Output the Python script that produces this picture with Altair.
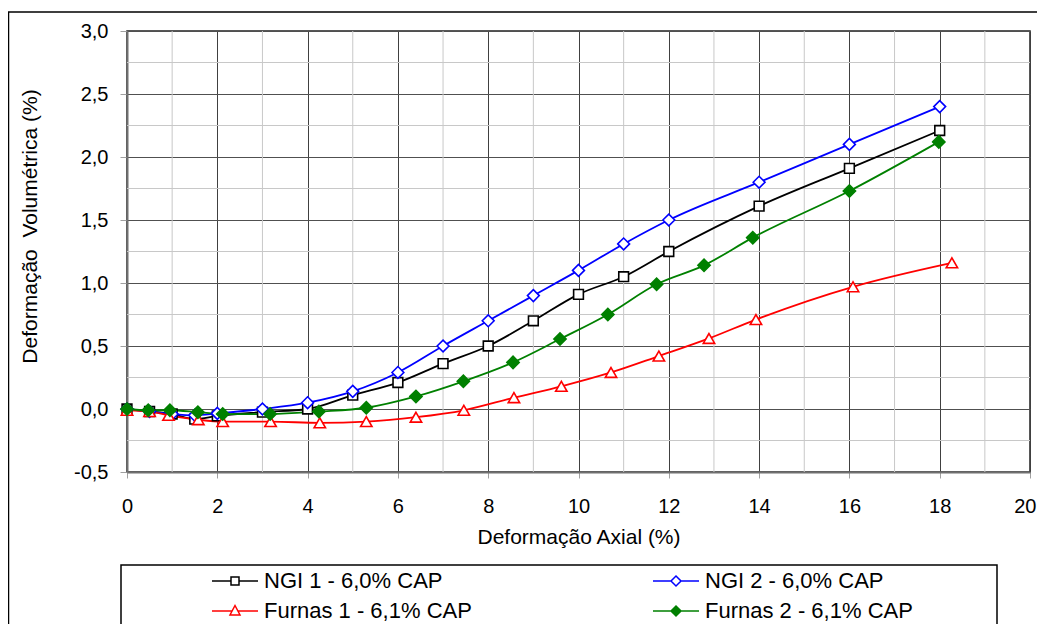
import altair as alt
import pandas as pd

series_names = ["NGI 1 - 6,0% CAP", "NGI 2 - 6,0% CAP", "Furnas 1 - 6,1% CAP", "Furnas 2 - 6,1% CAP"]
line_colors = ["#000000", "#0000ff", "#ff0000", "#008000"]
marker_fills = ["#ffffff", "#ffffff", "#ffffff", "#008000"]
marker_shapes = ["square", "diamond", "triangle-up", "diamond"]
marker_sizes = [95, 140, 130, 150]

ngi1_x = [0, 0.5, 1, 1.5, 2, 3, 4, 5, 6, 7, 8, 9, 10, 11, 12, 14, 16, 18]
ngi1_y = [0.0, -0.02, -0.04, -0.08, -0.055, -0.025, 0.0, 0.11, 0.21, 0.36, 0.50, 0.70, 0.91, 1.05, 1.25, 1.61, 1.91, 2.21]

ngi2_x = [0, 0.5, 1, 1.5, 2, 3, 4, 5, 6, 7, 8, 9, 10, 11, 12, 14, 16, 18]
ngi2_y = [0.0, -0.02, -0.04, -0.05, -0.035, 0.0, 0.05, 0.14, 0.29, 0.50, 0.70, 0.90, 1.10, 1.31, 1.50, 1.80, 2.10, 2.40]

furnas1_x = [0, 0.5, 0.92, 1.58, 2.12, 3.18, 4.27, 5.3, 6.4, 7.46, 8.57, 9.62, 10.72, 11.78, 12.89, 13.93, 16.08, 18.27]
furnas1_y = [-0.01, -0.02, -0.05, -0.085, -0.10, -0.10, -0.11, -0.10, -0.065, -0.01, 0.09, 0.18, 0.29, 0.42, 0.56, 0.71, 0.97, 1.16]

furnas2_x = [0, 0.47, 0.95, 1.57, 2.12, 3.17, 4.25, 5.3, 6.4, 7.45, 8.55, 9.59, 10.65, 11.73, 12.78, 13.86, 16.0, 17.98]
furnas2_y = [0.0, -0.01, -0.01, -0.025, -0.04, -0.04, -0.02, 0.01, 0.10, 0.22, 0.37, 0.555, 0.75, 0.99, 1.14, 1.36, 1.73, 2.12]

x_ticks = [0, 2, 4, 6, 8, 10, 12, 14, 16, 18, 20]
y_ticks = [-0.5, 0.0, 0.5, 1.0, 1.5, 2.0, 2.5, 3.0]
x_minor = [1, 3, 5, 7, 9, 11, 13, 15, 17, 19]
y_minor = [-0.25, 0.25, 0.75, 1.25, 1.75, 2.25, 2.75]

FONT = "Liberation Sans"

x_scale = alt.Scale(domain=[0, 20], nice=False, zero=False)
y_scale = alt.Scale(domain=[-0.5, 3.0], nice=False, zero=False)

x_axis = alt.Axis(values=x_ticks, title="Deformação Axial (%)", grid=True,
                  gridColor="#404040", gridWidth=1, tickColor="#a0a0a0", tickSize=6,
                  labelPadding=18, labelFontSize=20, titleFontSize=21,
                  domainColor="#707070", domainWidth=2, labelFlush=False,
                  labelAlign={"condition": {"test": "datum.value == 20", "value": "right"}, "value": "center"},
                  labelOffset={"condition": {"test": "datum.value == 20", "value": 6}, "value": 0},
                  titleY=65, titleBaseline="middle", titleFontWeight="normal",
                  labelColor="#000000", titleColor="#000000")
y_axis = alt.Axis(values=y_ticks, title="Deformação\u00a0 Volumétrica (%)", grid=True,
                  gridColor="#505050", gridWidth=1, tickColor="#a0a0a0", tickSize=7,
                  labelPadding=12, labelFontSize=20, titleFontSize=21,
                  domainColor="#707070", domainWidth=2, labelFlush=False,
                  labelExpr="(datum.value < 0 ? '-' : '') + replace(format(abs(datum.value), '.1f'), '.', ',')",
                  titleX=-97, titleY=195, titleAngle=270, titleBaseline="middle",
                  titleAlign="center", titleFontWeight="normal",
                  labelColor="#000000", titleColor="#000000")

X = alt.X("x:Q", scale=x_scale, axis=x_axis)
Y = alt.Y("y:Q", scale=y_scale, axis=y_axis)

minor_v = alt.Chart(pd.DataFrame({"x": x_minor})).mark_rule(color="#c8c8c8", strokeWidth=1).encode(x=X)
minor_h = alt.Chart(pd.DataFrame({"y": y_minor})).mark_rule(color="#c8c8c8", strokeWidth=1).encode(y=Y)

one = pd.DataFrame({"k": [0]})
outer_frame = alt.Chart(one).mark_rect(fill=None, stroke="#000000", strokeWidth=1.5).encode(
    x=alt.value(-118.5), x2=alt.value(915), y=alt.value(-19), y2=alt.value(600))
legend_frame = alt.Chart(one).mark_rect(fill=None, stroke="#000000", strokeWidth=1.5).encode(
    x=alt.value(-6), x2=alt.value(870), y=alt.value(534), y2=alt.value(600))

p_sq = "M-2.3,0H-0.4M0.4,0H2.3M-0.4,-0.4H0.4V0.4H-0.4Z"
p_di = "M-2.3,0H-0.5M0.5,0H2.3M0,-0.5L0.5,0L0,0.5L-0.5,0Z"
p_tr = "M-2.3,0H-0.29M0.29,0H2.3M0,-0.55L0.5,0.4L-0.5,0.4Z"
legend_paths = [p_sq, p_di, p_tr, p_di]
legend_pos = [(97, 539), (538, 539), (97, 569), (538, 569)]

series_xs = [ngi1_x, ngi2_x, furnas1_x, furnas2_x]
series_ys = [ngi1_y, ngi2_y, furnas1_y, furnas2_y]

line_layers = []
point_layers = []
for k, name in enumerate(series_names):
    d = pd.DataFrame({"series": name, "x": series_xs[k], "y": series_ys[k],
                      "i": list(range(len(series_xs[k])))})
    lg = alt.Legend(title=None, orient="none", legendX=legend_pos[k][0], legendY=legend_pos[k][1],
                    symbolType=legend_paths[k], symbolSize=400, symbolStrokeWidth=1.5,
                    symbolFillColor=marker_fills[k], symbolOpacity=1,
                    labelFontSize=22, labelFont=FONT, labelColor="#000000",
                    labelOffset=18, padding=0, labelLimit=400)
    line_layers.append(
        alt.Chart(d).mark_line(interpolate="monotone", strokeWidth=1.8).encode(
            x=X, y=Y,
            color=alt.Color("series:N", scale=alt.Scale(domain=[name], range=[line_colors[k]]), legend=lg),
            order="i:Q",
        )
    )
    point_layers.append(
        alt.Chart(d).mark_point(opacity=1, strokeWidth=1.6, shape=marker_shapes[k],
                                size=marker_sizes[k], stroke=line_colors[k],
                                fill=marker_fills[k], filled=True).encode(x=X, y=Y)
    )

chart = alt.layer(minor_v, minor_h, outer_frame, legend_frame, *line_layers, *point_layers).resolve_scale(
    color="independent"
).properties(
    width=903, height=441,
    autosize=alt.AutoSizeParams(type="none"),
    padding={"left": 119, "top": 23, "right": 7, "bottom": 152},
    background="#ffffff",
).configure(font=FONT).configure_view(stroke="#202020", strokeWidth=1.5)

chart.save("out.html", embed_options={"renderer": "svg", "actions": False})
